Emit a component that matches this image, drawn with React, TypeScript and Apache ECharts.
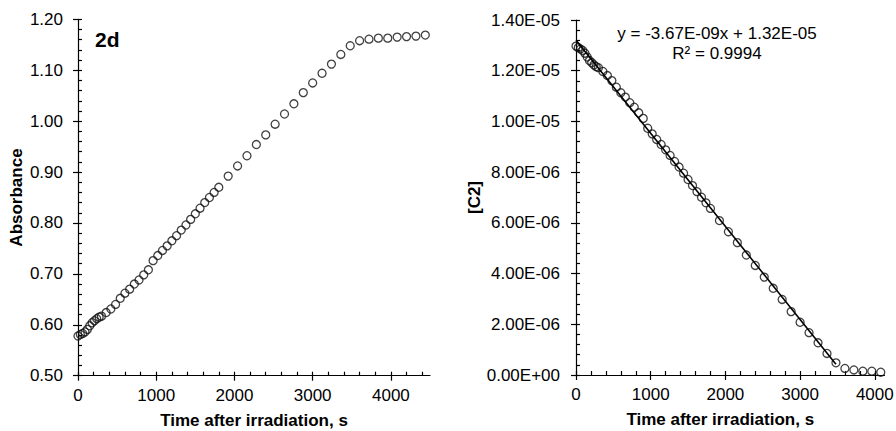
import React, { useEffect, useRef } from 'react';
import * as echarts from 'echarts';

// ---- data ----
const times = [
  0, 30, 60, 90, 120, 150, 180, 210, 240, 270, 300,
  360, 420, 480, 540, 600, 660, 720, 780, 840, 900,
  960, 1020, 1080, 1140, 1200, 1260, 1320, 1380, 1440, 1500, 1560, 1620, 1680, 1740, 1800,
  1920, 2040, 2160, 2280, 2400, 2520, 2640, 2760, 2880, 3000, 3120, 3240, 3360, 3480,
  3600, 3720, 3840, 3960, 4080, 4200, 4320, 4440,
];

const absorbance = [
  0.578, 0.581, 0.583, 0.586, 0.591, 0.598, 0.604, 0.608, 0.612, 0.615, 0.617,
  0.624, 0.631, 0.640, 0.652, 0.662, 0.670, 0.680, 0.688, 0.698, 0.708,
  0.726, 0.736, 0.746, 0.755, 0.765, 0.775, 0.786, 0.796, 0.807, 0.818, 0.829, 0.840, 0.850, 0.860, 0.870,
  0.892, 0.912, 0.932, 0.954, 0.973, 0.994, 1.014, 1.034, 1.056, 1.075, 1.094, 1.112, 1.131, 1.148,
  1.158, 1.161, 1.163, 1.163, 1.165, 1.166, 1.167, 1.169,
];

// [C2] values for the first 55 time points
const c2Conc = [
  12.97e-6, 12.91e-6, 12.86e-6, 12.80e-6, 12.69e-6, 12.54e-6, 12.40e-6, 12.32e-6, 12.23e-6, 12.16e-6, 12.12e-6,
  11.97e-6, 11.81e-6, 11.61e-6, 11.35e-6, 11.13e-6, 10.96e-6, 10.74e-6, 10.56e-6, 10.34e-6, 10.12e-6,
  9.73e-6, 9.51e-6, 9.29e-6, 9.09e-6, 8.88e-6, 8.66e-6, 8.42e-6, 8.20e-6, 7.96e-6, 7.71e-6, 7.47e-6, 7.23e-6, 7.01e-6, 6.79e-6, 6.57e-6,
  6.09e-6, 5.65e-6, 5.22e-6, 4.73e-6, 4.32e-6, 3.86e-6, 3.42e-6, 2.98e-6, 2.50e-6, 2.08e-6, 1.67e-6, 1.27e-6, 0.85e-6, 0.48e-6,
  0.26e-6, 0.20e-6, 0.15e-6, 0.15e-6, 0.11e-6,
];

// linear trendline (from the displayed equation)
const fitSlope = -3.67e-9;
const fitIntercept = 1.32e-5;
const fitRange = [0, 3480];
const equationText = 'y = -3.67E-09x + 1.32E-05';
const r2Text = 'R\u00B2 = 0.9994';

// axis tick labels
const leftXTicks = [0, 1000, 2000, 3000, 4000];
const leftYTicks = [0.5, 0.6, 0.7, 0.8, 0.9, 1.0, 1.1, 1.2];
const rightXTicks = [0, 1000, 2000, 3000, 4000];
const rightYTicks = [0, 2e-6, 4e-6, 6e-6, 8e-6, 10e-6, 12e-6, 14e-6];

const panelLabel = '2d';
const xTitle = 'Time after irradiation, s';
const leftYTitle = 'Absorbance';
const rightYTitle = '[C2]';

// ---- helpers ----
function range(start: number, end: number, step: number): number[] {
  const out: number[] = [];
  const n = Math.round((end - start) / step);
  for (let i = 0; i <= n; i++) out.push(Math.round((start + i * step) * 1e12) / 1e12);
  return out;
}

function fmtSci(v: number): string {
  if (Math.abs(v) < 1e-15) return '0.00E+00';
  let exp = Math.floor(Math.log10(Math.abs(v)) + 1e-9);
  let mant = v / Math.pow(10, exp);
  if (Math.abs(mant) >= 9.995) {
    mant /= 10;
    exp += 1;
  }
  const sign = exp < 0 ? '-' : '+';
  return `${mant.toFixed(2)}E${sign}${String(Math.abs(exp)).padStart(2, '0')}`;
}

const FONT = 'Liberation Sans, Arial, sans-serif';
const BLACK = '#000000';

function near(list: number[], v: number) {
  return list.some((t) => Math.abs(t - v) < 1e-9 * Math.max(1, Math.abs(t)) || Math.abs(t - v) < 1e-12);
}

export default function App() {
  const ref = useRef<HTMLDivElement>(null);

  useEffect(() => {
    if (!ref.current) return;
    const chart = echarts.init(ref.current, undefined, { renderer: 'svg' });

    const leftXMax = 4500;
    const leftYMin = 0.5;
    const leftYMax = 1.2;
    const rightXMax = 4130;
    const rightYMax = 1.4e-5;

    const leftXMinor = range(0, 4400, 200);
    const leftYMinor = range(0.5, 1.2, 0.02);
    const rightXMinor = range(0, 4000, 200);
    const rightYMinor = range(0, 1.4e-5, 4e-7);

    const labelStyle = { color: BLACK, fontSize: 17, fontFamily: FONT };
    const nameStyle = { color: BLACK, fontSize: 17, fontWeight: 'bold' as const, fontFamily: FONT };
    const lineStyle = { color: BLACK, width: 1.2 };

    const mainX = (gridIndex: number, max: number, ticks: number[], name: string, padding: number[]) => ({
      type: 'value',
      gridIndex,
      position: 'bottom',
      min: 0,
      max,
      interval: 1000,
      name,
      nameLocation: 'middle',
      nameGap: 36,
      nameTextStyle: { ...nameStyle, padding },
      axisLine: { show: true, onZero: false, lineStyle },
      axisTick: { show: true, inside: false, length: 5, customValues: ticks, lineStyle },
      axisLabel: {
        show: true,
        margin: 11,
        customValues: ticks,
        ...labelStyle,
        formatter: (v: number) => (near(ticks, v) ? String(Math.round(v)) : ''),
      },
      splitLine: { show: false },
    });

    const minorX = (gridIndex: number, max: number, ticks: number[]) => ({
      type: 'value',
      gridIndex,
      position: 'bottom',
      min: 0,
      max,
      interval: 200,
      axisLine: { show: false, onZero: false },
      axisTick: { show: true, inside: true, length: 4, customValues: ticks, lineStyle },
      axisLabel: { show: false },
      splitLine: { show: false },
    });

    const option: any = {
      animation: false,
      backgroundColor: '#ffffff',
      textStyle: { fontFamily: FONT, color: BLACK },
      grid: [
        { left: 78, top: 19.3, width: 352, height: 356.4, containLabel: false, outerBoundsMode: 'none' },
        { left: 576, top: 20, width: 308.5, height: 355, containLabel: false, outerBoundsMode: 'none' },
      ],
      xAxis: [
        mainX(0, leftXMax, leftXTicks, xTitle, [0, 0, 0, 0]),
        minorX(0, leftXMax, leftXMinor),
        mainX(1, rightXMax, rightXTicks, xTitle, [0, 20, 0, 0]),
        minorX(1, rightXMax, rightXMinor),
      ],
      yAxis: [
        {
          type: 'value',
          gridIndex: 0,
          position: 'left',
          min: leftYMin,
          max: leftYMax,
          interval: 0.1,
          name: leftYTitle,
          nameLocation: 'middle',
          nameRotate: 90,
          nameGap: 53,
          nameTextStyle: nameStyle,
          axisLine: { show: true, onZero: false, lineStyle },
          axisTick: { show: true, inside: false, length: 5, customValues: leftYTicks, lineStyle },
          axisLabel: {
            show: true,
            margin: 15,
            customValues: leftYTicks,
            ...labelStyle,
            formatter: (v: number) => v.toFixed(2),
          },
          splitLine: { show: false },
        },
        {
          type: 'value',
          gridIndex: 0,
          position: 'left',
          min: leftYMin,
          max: leftYMax,
          interval: 0.02,
          axisLine: { show: false, onZero: false },
          axisTick: { show: true, inside: true, length: 4, customValues: leftYMinor, lineStyle },
          axisLabel: { show: false },
          splitLine: { show: false },
        },
        {
          type: 'value',
          gridIndex: 1,
          position: 'left',
          min: 0,
          max: rightYMax,
          interval: 2e-6,
          name: rightYTitle,
          nameLocation: 'middle',
          nameRotate: 90,
          nameGap: 93,
          nameTextStyle: nameStyle,
          axisLine: { show: true, onZero: false, lineStyle },
          axisTick: { show: true, inside: false, length: 5, customValues: rightYTicks, lineStyle },
          axisLabel: {
            show: true,
            margin: 16,
            customValues: rightYTicks,
            ...labelStyle,
            formatter: (v: number) => fmtSci(v),
          },
          splitLine: { show: false },
        },
        {
          type: 'value',
          gridIndex: 1,
          position: 'left',
          min: 0,
          max: rightYMax,
          interval: 4e-7,
          axisLine: { show: false, onZero: false },
          axisTick: { show: true, inside: true, length: 4, customValues: rightYMinor, lineStyle },
          axisLabel: { show: false },
          splitLine: { show: false },
        },
      ],
      series: [
        {
          type: 'scatter',
          name: 'Absorbance',
          xAxisIndex: 0,
          yAxisIndex: 0,
          symbol: 'circle',
          symbolSize: 8,
          itemStyle: { color: 'rgba(0,0,0,0)', borderColor: '#111111', borderWidth: 1.3 },
          data: times.map((t, i) => [t, absorbance[i]]),
          z: 3,
        },
        {
          type: 'line',
          name: 'Linear fit',
          xAxisIndex: 2,
          yAxisIndex: 2,
          showSymbol: false,
          symbol: 'none',
          lineStyle: { color: BLACK, width: 1.6 },
          data: fitRange.map((t) => [t, fitIntercept + fitSlope * t]),
          z: 4,
        },
        {
          type: 'scatter',
          name: '[C2]',
          xAxisIndex: 2,
          yAxisIndex: 2,
          symbol: 'circle',
          symbolSize: 8,
          itemStyle: { color: 'rgba(0,0,0,0)', borderColor: '#111111', borderWidth: 1.3 },
          data: c2Conc.map((c, i) => [times[i], c]),
          z: 3,
        },
      ],
      graphic: [
        {
          type: 'text',
          left: 95,
          top: 29,
          style: { text: panelLabel, fontSize: 21, fontWeight: 'bold', fontFamily: FONT, fill: BLACK },
        },
        {
          type: 'text',
          x: 717,
          y: 33,
          style: {
            text: equationText,
            fontSize: 17,
            fontFamily: FONT,
            fill: BLACK,
            align: 'center',
            verticalAlign: 'middle',
          },
        },
        {
          type: 'text',
          x: 717,
          y: 53,
          style: {
            text: r2Text,
            fontSize: 17,
            fontFamily: FONT,
            fill: BLACK,
            align: 'center',
            verticalAlign: 'middle',
          },
        },
      ],
    };

    chart.setOption(option);
    return () => chart.dispose();
  }, []);

  return (
    <div
      ref={ref}
      style={{ position: 'fixed', left: 0, top: 0, width: 896, height: 431, background: '#fff' }}
    />
  );
}
